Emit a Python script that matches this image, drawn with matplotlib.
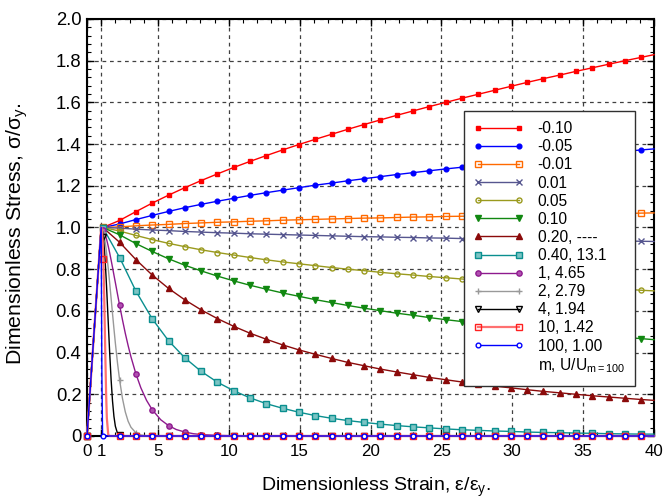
import matplotlib
matplotlib.use('Agg')
import matplotlib.pyplot as plt
from matplotlib.lines import Line2D
from matplotlib.ticker import MultipleLocator

plt.rcParams['font.family'] = ['Liberation Sans', 'DejaVu Sans']
plt.rcParams['mathtext.fontset'] = 'custom'
plt.rcParams['mathtext.rm'] = 'Liberation Sans'
plt.rcParams['mathtext.it'] = 'Liberation Sans:italic'

# ---------------- data ----------------
strain_marks = [0, 1.0, 1.15, 2.3, 3.45, 4.6, 5.75, 6.9, 8.05, 9.2, 10.35, 11.5, 12.65, 13.8,
                14.95, 16.1, 17.25, 18.4, 19.55, 20.7, 21.85, 23.0, 24.15, 25.3, 26.45, 27.6,
                28.75, 29.9, 31.05, 32.2, 33.35, 34.5, 35.65, 36.8, 37.95, 39.1, 40]
strain_fine = [0, 1.0, 1.05, 1.1, 1.15, 1.2, 1.25, 1.3, 1.35, 1.4, 1.5, 1.6, 1.7, 1.8, 1.9, 2.0,
               2.15, 2.3, 2.5, 2.7, 2.9, 3.1, 3.45, 3.8, 4.2, 4.6, 5.2, 5.75, 6.3, 6.9, 7.5, 8.05,
               9.2, 10.35, 11.5, 12.65, 13.8, 14.95, 16.1, 17.25, 18.4, 19.55, 20.7, 21.85, 23.0,
               24.15, 25.3, 26.45, 27.6, 28.75, 29.9, 31.05, 32.2, 33.35, 34.5, 35.65, 36.8,
               37.95, 39.1, 40]

stress_mn010 = [0, 1, 1.001, 1.034, 1.076, 1.117, 1.155, 1.191, 1.225, 1.257, 1.288, 1.317,
                1.345, 1.372, 1.398, 1.423, 1.447, 1.471, 1.494, 1.516, 1.538, 1.559, 1.580,
                1.600, 1.620, 1.639, 1.658, 1.677, 1.696, 1.714, 1.731, 1.749, 1.766, 1.783,
                1.800, 1.816, 1.829]
stress_mn005 = [0, 1, 1.000, 1.017, 1.038, 1.058, 1.077, 1.095, 1.111, 1.126, 1.140, 1.154,
                1.167, 1.179, 1.191, 1.203, 1.213, 1.224, 1.234, 1.244, 1.254, 1.263, 1.272,
                1.281, 1.289, 1.298, 1.306, 1.314, 1.322, 1.329, 1.337, 1.344, 1.351, 1.358,
                1.365, 1.372, 1.377]
stress_mn001 = [0, 1, 1.000, 1.003, 1.008, 1.012, 1.015, 1.019, 1.022, 1.025, 1.027, 1.030,
                1.032, 1.035, 1.037, 1.039, 1.041, 1.043, 1.045, 1.046, 1.048, 1.050, 1.051,
                1.053, 1.054, 1.056, 1.057, 1.059, 1.060, 1.061, 1.063, 1.064, 1.065, 1.066,
                1.067, 1.069, 1.070]
stress_m001 = [0, 1, 1.000, 0.997, 0.992, 0.988, 0.985, 0.981, 0.978, 0.975, 0.973, 0.970,
               0.968, 0.966, 0.964, 0.962, 0.960, 0.958, 0.956, 0.955, 0.953, 0.952, 0.950,
               0.949, 0.947, 0.946, 0.945, 0.943, 0.942, 0.941, 0.940, 0.939, 0.937, 0.936,
               0.935, 0.934, 0.933]
stress_m005 = [0, 1, 1.000, 0.983, 0.962, 0.942, 0.924, 0.908, 0.893, 0.880, 0.868, 0.856,
               0.845, 0.835, 0.826, 0.817, 0.808, 0.800, 0.793, 0.785, 0.778, 0.772, 0.765,
               0.759, 0.753, 0.747, 0.742, 0.737, 0.731, 0.726, 0.722, 0.717, 0.712, 0.708,
               0.704, 0.699, 0.696]
stress_m010 = [0, 1, 0.999, 0.965, 0.923, 0.885, 0.850, 0.819, 0.792, 0.767, 0.744, 0.723,
               0.704, 0.686, 0.670, 0.654, 0.640, 0.626, 0.613, 0.601, 0.589, 0.579, 0.568,
               0.558, 0.549, 0.540, 0.531, 0.523, 0.515, 0.507, 0.500, 0.493, 0.486, 0.479,
               0.473, 0.467, 0.462]
stress_m020 = [0, 1, 0.998, 0.929, 0.846, 0.772, 0.708, 0.653, 0.605, 0.563, 0.526, 0.493,
               0.464, 0.437, 0.413, 0.392, 0.372, 0.353, 0.337, 0.321, 0.307, 0.294, 0.281,
               0.270, 0.259, 0.249, 0.239, 0.231, 0.222, 0.214, 0.207, 0.200, 0.193, 0.187,
               0.181, 0.175, 0.171]
stress_m040 = [0, 1, 0.996, 0.856, 0.695, 0.562, 0.457, 0.375, 0.310, 0.258, 0.217, 0.183,
               0.155, 0.133, 0.114, 0.098, 0.085, 0.074, 0.065, 0.057, 0.050, 0.044, 0.039,
               0.034, 0.030, 0.027, 0.024, 0.022, 0.019, 0.017, 0.016, 0.014, 0.013, 0.011,
               0.010, 0.009, 0.009]
stress_m1 = [0, 1, 0.999, 0.995, 0.990, 0.982, 0.974, 0.963, 0.951, 0.938, 0.910, 0.878, 0.844,
             0.809, 0.772, 0.736, 0.681, 0.627, 0.558, 0.493, 0.434, 0.380, 0.298, 0.231, 0.171,
             0.126, 0.078, 0.050, 0.031, 0.019, 0.011, 0.007, 0.003, 0.001] + [0] * 26
stress_m2 = [0, 1, 0.998, 0.990, 0.979, 0.963, 0.944, 0.921, 0.895, 0.866, 0.803, 0.733, 0.661,
             0.587, 0.515, 0.446, 0.351, 0.269, 0.181, 0.116, 0.071, 0.042, 0.015, 0.005, 0.001,
             0] + [0] * 34
stress_m4 = [0, 1, 0.995, 0.979, 0.954, 0.918, 0.872, 0.817, 0.756, 0.688, 0.543, 0.399, 0.271,
             0.168, 0.094, 0.047, 0.013, 0.003] + [0] * 42
stress_m10 = [0, 1, 0.986, 0.938, 0.848, 0.714, 0.544, 0.362, 0.2, 0.086, 0.005] + [0] * 49
stress_m100 = [0, 1, 0.285] + [0] * 57

labels = ['-0.10', '-0.05', '-0.01', '0.01', '0.05', '0.10', '0.20, ----', '0.40, 13.1',
          '1, 4.65', '2, 2.79', '4, 1.94', '10, 1.42', '100, 1.00']
legend_note = r'm, U/U$_{\mathrm{m{=}100}}$'

data = [(strain_marks, stress_mn010), (strain_marks, stress_mn005), (strain_marks, stress_mn001),
        (strain_marks, stress_m001), (strain_marks, stress_m005), (strain_marks, stress_m010),
        (strain_marks, stress_m020), (strain_marks, stress_m040),
        (strain_fine, stress_m1), (strain_fine, stress_m2), (strain_fine, stress_m4),
        (strain_fine, stress_m10), (strain_fine, stress_m100)]

# ---------------- styles ----------------
styles = [
    dict(color='#ff0000', marker='s', mfc='#ff0000', mec='#ff0000', ms=3.2, lw=1.0),
    dict(color='#0000ff', marker='o', mfc='#0000ff', mec='#0000ff', ms=3.4, lw=1.0),
    dict(color='#ff6a00', marker='s', mfc='none', mec='#ff6a00', ms=4.3, lw=1.0),
    dict(color='#56568f', marker='x', mfc='none', mec='#56568f', ms=4.0, lw=1.0),
    dict(color='#9a9a1e', marker='o', mfc='none', mec='#9a9a1e', ms=3.6, lw=1.0),
    dict(color='#118811', marker='v', mfc='#118811', mec='#118811', ms=4.6, lw=1.0),
    dict(color='#8b0a0a', marker='^', mfc='#8b0a0a', mec='#8b0a0a', ms=4.6, lw=1.0),
    dict(color='#0a8f8f', marker='s', mfc='#7cc4c4', mec='#0a8f8f', ms=4.3, lw=1.0),
    dict(color='#8e1a8e', marker='o', mfc='#b050b0', mec='#8e1a8e', ms=3.8, lw=1.0),
    dict(color='#999999', marker='+', mfc='none', mec='#999999', ms=5, lw=1.0),
    dict(color='#000000', marker='v', mfc='none', mec='#000000', ms=4, lw=1.0),
    dict(color='#ff7070', marker='s', mfc='none', mec='#ff2020', ms=4.3, lw=1.6),
    dict(color='#0000ff', marker='o', mfc='white', mec='#0000ff', ms=3.4, lw=1.0),
]

fig = plt.figure(figsize=(6.64, 5.03), dpi=100)
ax = fig.add_axes([87/664, 67/503, 567/664, 417/503])

handles = []
for (xs, ys), st, lab in zip(data, styles, labels):
    every = [i for i, g in enumerate(xs) if abs(g/1.15 - round(g/1.15)) < 1e-6]
    ax.plot(xs, ys, color=st['color'], lw=st['lw'], marker=st['marker'], ms=st['ms'],
            mfc=st['mfc'], mec=st['mec'], mew=1.0, markevery=every, clip_on=False, zorder=3)
    handles.append(Line2D([0], [0], color=st['color'], lw=st['lw'], marker=st['marker'],
                          ms=st['ms'], mfc=st['mfc'], mec=st['mec'], mew=1.0, label=lab))
handles.append(Line2D([], [], linestyle='none', label=legend_note))

ax.set_xlim(0, 40)
ax.set_ylim(0, 2.0)
xt = [0, 1, 5, 10, 15, 20, 25, 30, 35, 40]
ax.set_xticks(xt)
ax.set_xticklabels([str(v) for v in xt])
yt = [0, 0.2, 0.4, 0.6, 0.8, 1.0, 1.2, 1.4, 1.6, 1.8, 2.0]
ax.set_yticks(yt)
ax.set_yticklabels(['0'] + [f'{v:.1f}' for v in yt[1:]])
ax.xaxis.set_minor_locator(MultipleLocator(1))
ax.yaxis.set_minor_locator(MultipleLocator(0.04))
ax.tick_params(which='both', direction='in', top=True, right=True)
ax.tick_params(axis='x', labelsize=12.2, pad=6)
ax.tick_params(axis='y', labelsize=13.3, pad=4)
ax.tick_params(which='major', length=5, width=1)
ax.tick_params(which='minor', length=3, width=0.8)
ax.grid(True, which='major', linestyle=(0, (3, 3)), color='#404040', linewidth=0.9)
for s in ax.spines.values():
    s.set_linewidth(1.5)
ax.set_axisbelow(True)

ax.set_xlabel(r'Dimensionless Strain, ε/ε$_{\mathrm{y}}$.', fontsize=14, labelpad=10)
ax.set_ylabel(r'Dimensionless Stress, σ/σ$_{\mathrm{y}}$.', fontsize=15.3, labelpad=10)
ax.xaxis.set_label_coords(0.51, -0.095)
ax.yaxis.set_label_coords(-0.101, 0.484)

leg = ax.legend(handles=handles, loc='upper right', bbox_to_anchor=(0.966, 0.779),
                fontsize=11.2, numpoints=2, handlelength=3.2, handletextpad=0.9,
                labelspacing=0.2, borderpad=0.65, borderaxespad=0, fancybox=False,
                framealpha=1, edgecolor='#303030')
leg.get_frame().set_linewidth(1.0)
leg.set_zorder(10)

fig.savefig('out.png', dpi=100)
